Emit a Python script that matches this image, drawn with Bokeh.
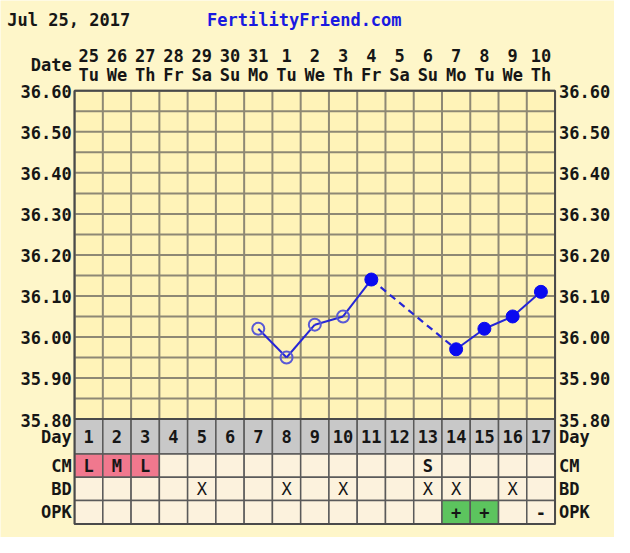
from bokeh.plotting import figure
from bokeh.models import Range1d, ColumnDataSource
from bokeh.core.properties import value
from bokeh.embed import file_html
from bokeh.resources import INLINE

# ---------------- data ----------------
title_date = "Jul 25, 2017"
site = "FertilityFriend.com"
dates = ["25", "26", "27", "28", "29", "30", "31", "1", "2", "3", "4", "5", "6", "7", "8", "9", "10"]
weekdays = ["Tu", "We", "Th", "Fr", "Sa", "Su", "Mo", "Tu", "We", "Th", "Fr", "Sa", "Su", "Mo", "Tu", "We", "Th"]
cycle_days = list(range(1, 18))
temp_labels = ["36.60", "36.50", "36.40", "36.30", "36.20", "36.10", "36.00", "35.90", "35.80"]
temp_ticks = [36.60, 36.50, 36.40, 36.30, 36.20, 36.10, 36.00, 35.90, 35.80]
temp_days = [7, 8, 9, 10, 11, 14, 15, 16, 17]
temps = [36.02, 35.95, 36.03, 36.05, 36.14, 35.97, 36.02, 36.05, 36.11]
temp_open = [True, True, True, True, False, False, False, False, False]
cm_vals = {1: "L", 2: "M", 3: "L", 13: "S"}
cm_pink = [1, 2, 3]
bd_days = [5, 8, 10, 13, 14, 16]
opk_vals = {14: "+", 15: "+", 17: "-"}
opk_green = [14, 15]
row_names = ["Day", "CM", "BD", "OPK"]

# ---------------- layout / style ----------------
W, H = 614, 537          # figure size (fits 630x553 window with 8px margin)
RW, RH = 630, 553        # layout is expressed in reference-picture pixels
PAGE_BG = "#FEF6C9"
GRID_BG = "#FFF3B8"
GRID_LINE = "#8E8874"
BORDER = "#4A4A4A"
CELL_BG = "#FCF2DD"
GRAY = "#C8C8C8"
PINK = "#F0788E"
GREEN = "#5CC45E"
TXT = "#161616"
FONT = value("DejaVu Sans Mono")
FS = "17px"

col_w = 29.0
left_px = 76.0
c0 = left_px - col_w / 2          # ref-x of day 0 centre
x0 = (0 - c0) / col_w
x1 = (RW - c0) / col_w
t_top_px, t_bot_px = 93.0, 431.0
tmax, tmin = 36.60, 35.80
k = (t_bot_px - t_top_px) / (tmax - tmin)
y_hi = tmax + t_top_px / k
y_lo = tmax - (RH - t_top_px) / k

p = figure(width=W, height=H, output_backend="svg", toolbar_location=None,
           x_range=Range1d(x0, x1), y_range=Range1d(y_lo, y_hi),
           x_axis_type=None, y_axis_type=None, min_border=0)
p.extra_x_ranges = {"px": Range1d(0, RW)}
p.extra_y_ranges = {"px": Range1d(RH, 0)}
p.background_fill_color = PAGE_BG
p.border_fill_color = PAGE_BG
p.outline_line_color = None

n = len(cycle_days)
xl, xr = cycle_days[0] - 0.5, cycle_days[-1] + 0.5

# temperature grid background
p.quad(left=[xl], right=[xr], bottom=[tmin], top=[tmax], fill_color=GRID_BG, line_color=None)
hl = [round(tmin + 0.05 * i, 2) for i in range(int(round((tmax - tmin) / 0.05)) + 1)]
p.segment(x0=[xl] * len(hl), x1=[xr] * len(hl), y0=hl, y1=hl, line_color=GRID_LINE, line_width=2)
vb = [d - 0.5 for d in cycle_days] + [xr]
p.segment(x0=vb, x1=vb, y0=[tmin] * len(vb), y1=[tmax] * len(vb), line_color=GRID_LINE, line_width=2)

# table rows (ref px layout)
row_top = [431, 467, 491, 515]
row_bot = [467, 491, 515, 539]
cells = dict(left=[], right=[], top=[], bottom=[], color=[])
for ri, rn in enumerate(row_names):
    for d in cycle_days:
        if rn == "Day":
            c = GRAY
        elif rn == "CM" and d in cm_pink:
            c = PINK
        elif rn == "OPK" and d in opk_green:
            c = GREEN
        else:
            c = CELL_BG
        cells["left"].append(d - 0.5)
        cells["right"].append(d + 0.5)
        cells["top"].append(row_top[ri])
        cells["bottom"].append(row_bot[ri])
        cells["color"].append(c)
p.quad(left="left", right="right", top="top", bottom="bottom", fill_color="color",
       line_color="#5A5A5A", line_width=1.5, source=ColumnDataSource(cells), y_range_name="px")
p.quad(left=[xl], right=[xr], bottom=[row_bot[-1]], top=[row_top[0]], fill_color=None,
       line_color=BORDER, line_width=2, y_range_name="px")
p.quad(left=[xl], right=[xr], bottom=[tmin], top=[tmax], fill_color=None,
       line_color=BORDER, line_width=2)

# temperature line
solid = dict(x0=[], x1=[], y0=[], y1=[])
dashed = dict(x0=[], x1=[], y0=[], y1=[])
for i in range(len(temp_days) - 1):
    tgt = solid if temp_days[i + 1] - temp_days[i] == 1 else dashed
    tgt["x0"].append(temp_days[i]); tgt["x1"].append(temp_days[i + 1])
    tgt["y0"].append(temps[i]); tgt["y1"].append(temps[i + 1])
p.segment(source=ColumnDataSource(solid), x0="x0", x1="x1", y0="y0", y1="y1",
          line_color="#2626D6", line_width=2)
p.segment(source=ColumnDataSource(dashed), x0="x0", x1="x1", y0="y0", y1="y1",
          line_color="#2626D6", line_width=2.2, line_dash="7 5")
od = [d for d, o in zip(temp_days, temp_open) if o]
ot = [t for t, o in zip(temps, temp_open) if o]
fd = [d for d, o in zip(temp_days, temp_open) if not o]
ft = [t for t, o in zip(temps, temp_open) if not o]
p.scatter(od, ot, size=12, marker="circle", fill_color=None, line_color="#5A5AD6", line_width=2)
p.scatter(fd, ft, size=13, marker="circle", fill_color="#0A0AF0", line_color="#0A0AF0")

# ---------------- texts ----------------
def txt(x, y, t, align="left", color=TXT, xr_name=None, size=FS, bold=True):
    kw = dict(x=x, y=y, text=t, text_font=FONT, text_font_size=size,
              text_font_style="bold" if bold else "normal", text_color=color,
              text_align=align, text_baseline="middle", y_range_name="px")
    if xr_name:
        kw["x_range_name"] = xr_name
    p.text(**kw)

txt([7], [20], [title_date], xr_name="px")
txt([212], [20], [site], color="#1A1AE0", xr_name="px")
txt(cycle_days, [57] * n, dates, align="center")
txt(cycle_days, [77] * n, weekdays, align="center")
txt([73], [66], ["Date"], align="right", xr_name="px")

ty = [t_top_px + (tmax - t) * k + 1 for t in temp_ticks]
txt([73] * len(ty), ty, temp_labels, align="right", xr_name="px")
txt([573] * len(ty), ty, temp_labels, xr_name="px")

row_mid = [(a + b) / 2 for a, b in zip(row_top, row_bot)]
lab_y = [row_mid[0] + 1] + row_mid[1:]
txt([73] * 4, lab_y, row_names, align="right", xr_name="px")
txt([573] * 4, lab_y, row_names, xr_name="px")
txt(cycle_days, [row_mid[0]] * n, [str(d) for d in cycle_days], align="center")
txt(list(cm_vals.keys()), [row_mid[1]] * len(cm_vals), list(cm_vals.values()), align="center")
txt(bd_days, [row_mid[2]] * len(bd_days), ["X"] * len(bd_days), align="center", bold=False)
txt(list(opk_vals.keys()), [row_mid[3]] * len(opk_vals), list(opk_vals.values()), align="center")

open("out.html", "w").write(file_html(p, INLINE))
